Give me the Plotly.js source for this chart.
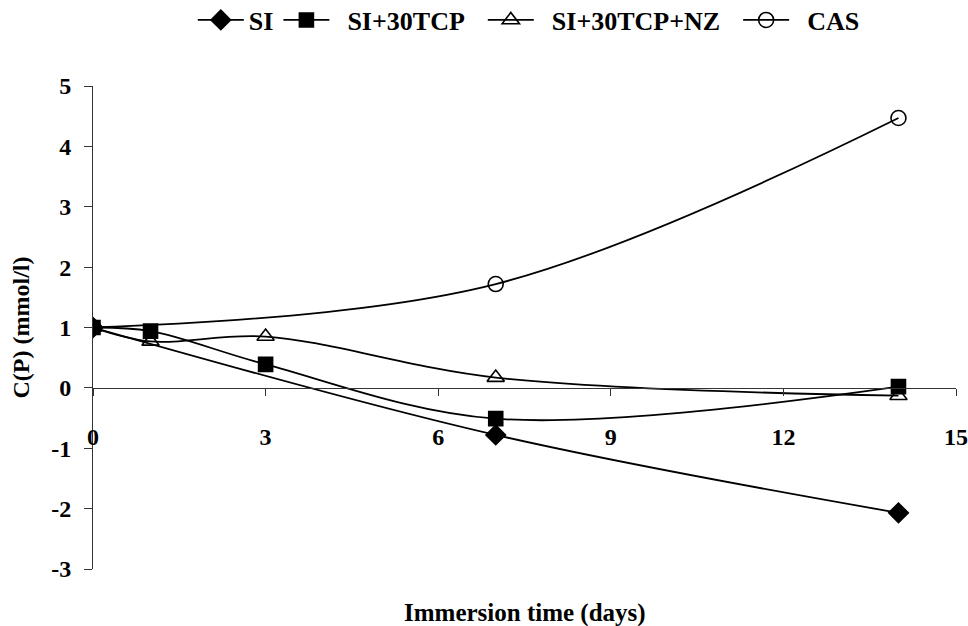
<!DOCTYPE html>
<html><head><meta charset="utf-8">
<script src="https://cdn.plot.ly/plotly-3.0.1.min.js"></script>
<style>html,body{margin:0;padding:0;background:#fff}#chart{width:968px;height:626px}</style>
</head><body><div id="chart"></div>
<script>
const siX = [0, 7, 14];
const siY = [1, -0.78, -2.07];
const tcpX = [0, 1, 3, 7, 14];
const tcpY = [1, 0.94, 0.39, -0.51, 0.02];
const nzX = [0, 1, 3, 7, 14];
const nzY = [1, 0.77, 0.85, 0.17, -0.13];
const casX = [0, 7, 14];
const casY = [1, 1.72, 4.47];
const seriesNames = ['SI', 'SI+30TCP', 'SI+30TCP+NZ', 'CAS'];
const xTicks = [0, 3, 6, 9, 12, 15];
const yTicks = [-3, -2, -1, 0, 1, 2, 3, 4, 5];

const fam = 'Liberation Serif, Times New Roman, serif';
const line = {color: '#000', width: 1.8, shape: 'spline', smoothing: 1};
const sp = '&nbsp;&nbsp;';
function tr(name, x, y, symbol, size) {
  return {x: x, y: y, name: name, type: 'scatter', mode: 'lines+markers', line: line,
    marker: {symbol: symbol, size: size, color: '#000', line: {color: '#000', width: 1.6}}};
}
const data = [
  tr('<b>' + seriesNames[0] + '</b>', siX, siY, 'diamond', 15),
  tr(sp + '<b>' + seriesNames[1] + '</b>' + sp, tcpX, tcpY, 'square', 14),
  tr(sp + '<b>' + seriesNames[2] + '</b>' + sp, nzX, nzY, 'triangle-up-open', 15),
  tr(sp + '<b>' + seriesNames[3] + '</b>', casX, casY, 'circle-open', 15)
];
const layout = {
  width: 968, height: 626,
  margin: {l: 93, r: 12, t: 86, b: 57},
  paper_bgcolor: '#fff', plot_bgcolor: '#fff',
  font: {family: fam, size: 24, color: '#000'},
  showlegend: true,
  legend: {orientation: 'h', xref: 'paper', x: 0.505, xanchor: 'center',
    yref: 'container', y: 0.968, yanchor: 'middle',
    font: {family: fam, size: 26, color: '#000'}, itemwidth: 46, tracegroupgap: 0},
  xaxis: {range: [0, 15], tickvals: xTicks, ticktext: xTicks.map(v => '<b>' + v + '</b>'),
    anchor: 'free', position: 0.375, showline: true, linecolor: '#333', linewidth: 1,
    ticks: 'outside', ticklen: 7, tickcolor: '#333', showgrid: false, zeroline: false,
    tickfont: {family: fam, size: 24, color: '#000'}, ticklabelstandoff: 20},
  yaxis: {range: [-3, 5], tickvals: yTicks, ticktext: yTicks.map(v => '<b>' + v + '</b>'),
    showline: true, linecolor: '#333', linewidth: 1, ticks: 'outside', ticklen: 8, tickcolor: '#333',
    showgrid: false, zeroline: false, tickfont: {family: fam, size: 24, color: '#000'},
    ticklabelstandoff: 8,
    title: {text: '<b>C(P) (mmol/l)</b>', font: {family: fam, size: 24, color: '#000'}, standoff: 14}},
  annotations: [{text: '<b>Immersion time (days)</b>', xref: 'paper', yref: 'paper', x: 0.5, y: -0.091,
    xanchor: 'center', yanchor: 'middle', showarrow: false, font: {family: fam, size: 25, color: '#000'}}]
};
Plotly.newPlot('chart', data, layout, {displayModeBar: false, staticPlot: true});
</script></body></html>
